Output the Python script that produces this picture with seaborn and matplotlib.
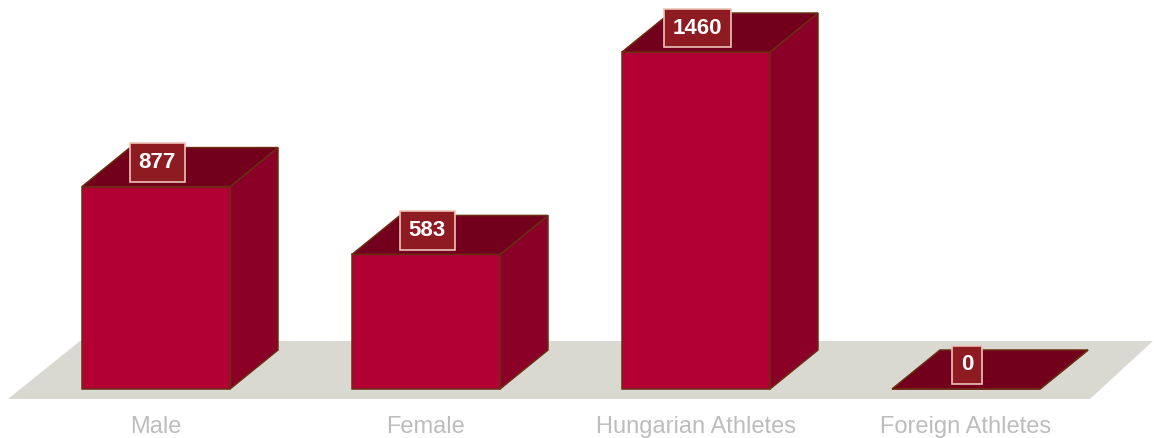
import numpy as np
import matplotlib
matplotlib.use("Agg")
import matplotlib.pyplot as plt
import seaborn as sns
from matplotlib.patches import Polygon
from matplotlib.transforms import blended_transform_factory

categories = ["Male", "Female", "Hungarian Athletes", "Foreign Athletes"]
values = [877, 583, 1460, 0]

front_color = "#B20034"
side_color = "#8A0026"
top_color = "#72001C"
edge_color = "#6B2D12"
floor_color = "#D9D9D2"

sns.set_theme(style="white")
plt.rcParams["font.family"] = ["Liberation Sans", "DejaVu Sans"]

fig = plt.figure(figsize=(11.54, 4.38), dpi=100)
ax = fig.add_axes([0, 0, 1, 1])

# pixel scale: 270 px per category, 0.2308 px per unit
px_x = 270.0
px_y = 0.2308

# depth offset of the 3d boxes
dx = 48 / px_x
dy = 39 / px_y

# floor
floor = Polygon([((8 - 156) / px_x, (389 - 399) / px_y),
                 ((1090 - 156) / px_x, (389 - 399) / px_y),
                 ((1153 - 156) / px_x, (389 - 341) / px_y),
                 ((80 - 156) / px_x, (389 - 341) / px_y)],
                closed=True, facecolor=floor_color, edgecolor="none", zorder=0)
ax.add_patch(floor)

sns.barplot(x=categories, y=values, width=148 / px_x, color=front_color,
            saturation=1, edgecolor=edge_color, linewidth=1.1, ax=ax, zorder=3)

for p in ax.patches[1:]:
    x0 = p.get_x()
    w = p.get_width()
    h = p.get_height()
    x1 = x0 + w
    side = Polygon([(x1, 0), (x1 + dx, dy), (x1 + dx, h + dy), (x1, h)],
                   closed=True, facecolor=side_color, edgecolor=edge_color,
                   linewidth=1.1, zorder=2)
    top = Polygon([(x0, h), (x1, h), (x1 + dx, h + dy), (x0 + dx, h + dy)],
                  closed=True, facecolor=top_color, edgecolor=edge_color,
                  linewidth=1.1, zorder=4)
    ax.add_patch(side)
    ax.add_patch(top)

for i, v in enumerate(values):
    ax.text(i + 0.005, v + 24 / px_y, str(v), ha="center", va="center",
            fontsize=16, fontweight="bold", color="white", zorder=6,
            bbox=dict(boxstyle="square,pad=0.4", facecolor="#8E1A22",
                      edgecolor="#EDC3B8", linewidth=1.2))

ax.set_xlim((0 - 156) / px_x, (1154 - 156) / px_x)
ax.set_ylim((389 - 438) / px_y, 389 / px_y)
ax.axis("off")

trans = blended_transform_factory(ax.transData, ax.transAxes)
for i, c in enumerate(categories):
    ax.text(i, 1 - 427 / 438, c, transform=trans, ha="center", va="center",
            fontsize=17, color="#BDBDBD")

fig.savefig("out.png", dpi=100)
